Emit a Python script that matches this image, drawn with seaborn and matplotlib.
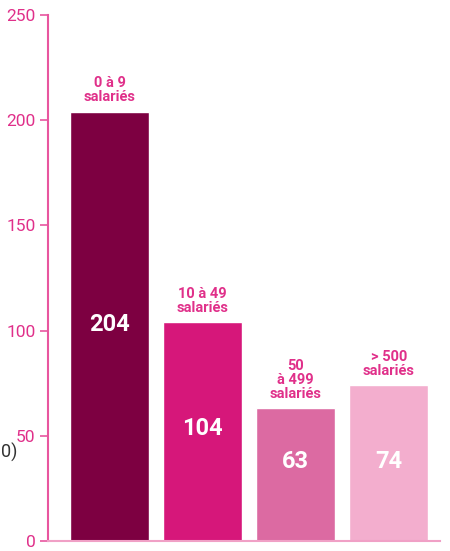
import pandas as pd
import numpy as np
import matplotlib.pyplot as plt
import seaborn as sns

# Chart data
categories = ['0 à 9\nsalariés', '10 à 49\nsalariés', '50\nà 499\nsalariés', '> 500\nsalariés']
values = [204, 104, 63, 74]
bar_colors = ['#7d0041', '#d6177a', '#dc6aa2', '#f3aece']
yticks = [0, 50, 100, 150, 200, 250]

pink = '#e0308a'
axis_pink = '#e8569f'

sns.set_style('white')
plt.rcParams['font.family'] = ['Roboto', 'DejaVu Sans']

df = pd.DataFrame({'cat': categories, 'value': values})

fig = plt.figure(figsize=(4.5, 5.51), dpi=100)
ax = fig.add_axes([48 / 450, 10 / 551, 392 / 450, 526 / 551])

sns.barplot(data=df, x='cat', y='value', hue='cat', palette=bar_colors,
            width=0.85, saturation=1, legend=False, ax=ax)

ax.set_ylim(0, 250)
ax.set_xlim(-0.66, 3.55)
ax.set_yticks(yticks)
ax.set_xticks([])
ax.set_xlabel('')
ax.set_ylabel('')

for side in ['top', 'right']:
    ax.spines[side].set_visible(False)
ax.spines['left'].set_color(axis_pink)
ax.spines['left'].set_linewidth(1.5)
ax.spines['bottom'].set_color('#f0a0c6')
ax.spines['bottom'].set_linewidth(1.5)
ax.tick_params(axis='y', direction='out', length=6, width=1.2, color=axis_pink,
               labelcolor=pink, labelsize=12.5, pad=3, left=True)

# value labels inside bars
value_y = [103, 53.5, 38, 38]
for i, (v, vy) in enumerate(zip(values, value_y)):
    ax.text(i, vy, str(v), ha='center', va='center', color='white',
            fontsize=17, fontweight='bold')

# category labels above bars
for i, (c, v) in enumerate(zip(categories, values)):
    ax.text(i, v + 3.5, c, ha='center', va='bottom', color=pink,
            fontsize=10.5, fontweight='bold', linespacing=1.0)

# fragment at left edge
fig.text(0.002, (551 - 452) / 551, '0)', ha='left', va='center',
         color='#333333', fontsize=13)

fig.savefig('out.png', dpi=100)
